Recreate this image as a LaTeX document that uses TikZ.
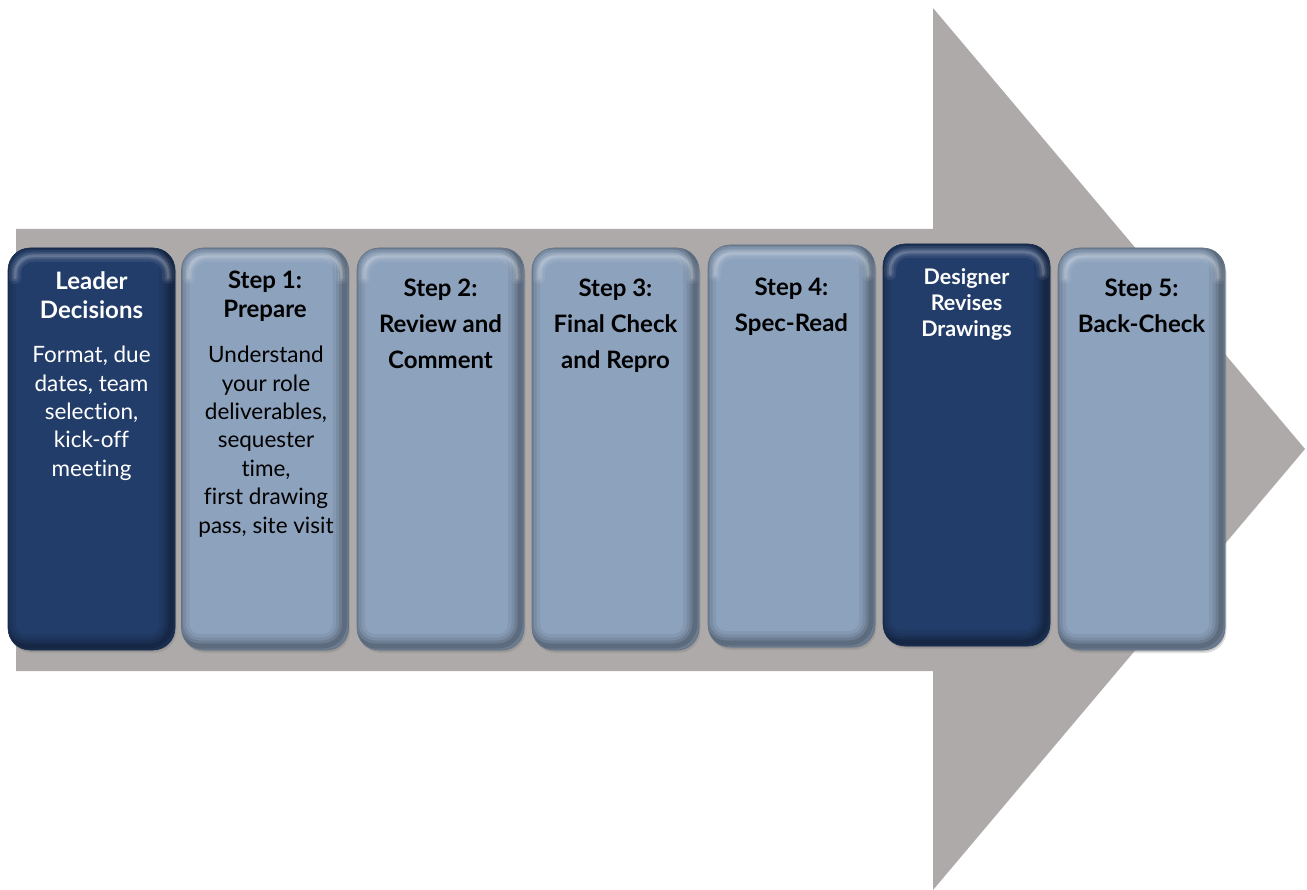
\documentclass[tikz,border=0pt]{standalone}
\usepackage{fontspec}
\setmainfont{Lato}[Ligatures={NoCommon}]
\usetikzlibrary{shadows}
\definecolor{arrowgray}{RGB}{173,170,169}
\definecolor{navy}{RGB}{35,61,106}
\definecolor{steel}{RGB}{141,162,189}
\newcommand\ttlfont{\bfseries\fontsize{24}{29}\selectfont}
\newcommand\ttlwide{\bfseries\fontsize{24}{36}\selectfont}
\newcommand\ttlsmall{\bfseries\fontsize{21.5}{26}\selectfont}
\newcommand\bdyfont{\fontsize{22.5}{28.4}\selectfont}
\tikzset{
  stepbox/.style={rounded corners=22pt, minimum width=167pt, minimum height=402pt,
    inner sep=0pt, fill=#1, draw=#1!70!black, line width=0.6pt,
    drop shadow={shadow xshift=1.5pt, shadow yshift=-3pt, opacity=0.25},
    drop shadow={shadow xshift=0.5pt, shadow yshift=-1.5pt, opacity=0.35},
    path picture={
      \coordinate (pnw) at (path picture bounding box.north west);
      \coordinate (pse) at (path picture bounding box.south east);
      \foreach \w/\o in {24/0.06,17/0.08,11/0.1,5/0.14}{
        \draw[black,opacity=\o,line width=\w pt,rounded corners=22pt]
          ([xshift=-4pt,yshift=4pt]pnw) rectangle ([xshift=-4pt,yshift=4pt]pse);
      }
      \foreach \w/\o in {12/0.07,7/0.1,3/0.16}{
        \draw[white,opacity=\o,line width=\w pt,rounded corners=18pt,line cap=round]
          ([xshift=7pt,yshift=-30pt]pnw) -- ([xshift=7pt,yshift=-8pt]pnw)
          -- ([xshift=-7pt,yshift=-8pt]pnw -| pse) -- ([xshift=-7pt,yshift=-30pt]pnw -| pse);
      }
    }},
  ttl/.style={anchor=north, inner sep=0pt, align=center},
  bdy/.style={anchor=north, inner sep=0pt, align=center, font=\bdyfont},
}
\begin{document}
\begin{tikzpicture}[x=1pt,y=-1pt]
\useasboundingbox (0,0) rectangle (1307,890);
\fill[arrowgray] (16,229) -- (933,229) -- (933,8) -- (1305,449) -- (933,890) -- (933,671) -- (16,671) -- cycle;

\node[stepbox=navy]  (b1) at (91.5,449) {};
\node[stepbox=steel] (b2) at (265,449) {};
\node[stepbox=steel] (b3) at (440.5,449) {};
\node[stepbox=steel] (b4) at (615.5,449) {};
\node[stepbox=steel] (b5) at (791.5,446) {};
\node[stepbox=navy]  (b6) at (966.5,445) {};
\node[stepbox=steel] (b7) at (1141.5,449) {};

\node[ttl, font=\ttlfont, text=white] (t1) at (91.5,271) {Leader\\Decisions};
\node[bdy, text=white] (d1) at (91.5,346) {Format, due\\dates, team\\selection,\\kick-off\\meeting};
\node[ttl, font=\ttlfont] (t2) at (265,271) {Step 1:\\Prepare};
\node[bdy] (d2) at (266,346) {Understand\\your role\\deliverables,\\sequester\\time,\\first drawing\\pass, site visit};
\node[ttl, font=\ttlwide] (t3) at (440.5,279) {Step 2:\\Review and\\Comment};
\node[ttl, font=\ttlwide] (t4) at (615.5,279) {Step 3:\\Final Check\\and Repro};
\node[ttl, font=\ttlwide] (t5) at (791.5,278) {Step 4:\\Spec-Read};
\node[ttl, font=\ttlsmall, text=white] (t6) at (966.5,268) {Designer\\Revises\\Drawings};
\node[ttl, font=\ttlwide] (t7) at (1141.5,279) {Step 5:\\Back-Check};
\end{tikzpicture}
\end{document}
